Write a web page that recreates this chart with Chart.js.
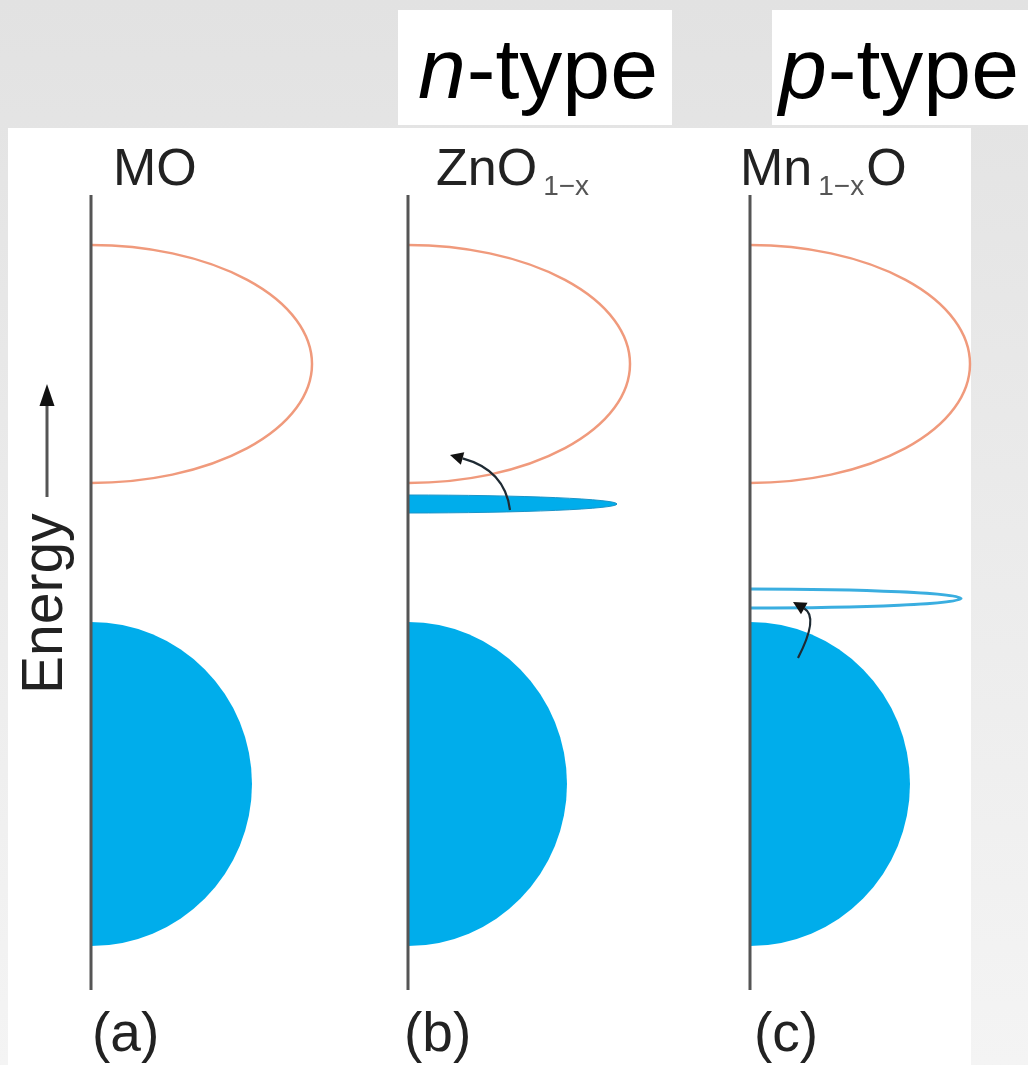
<!DOCTYPE html>
<html>
<head>
<meta charset="utf-8">
<script src="https://cdn.jsdelivr.net/npm/chart.js@4/dist/chart.umd.min.js"></script>
<style>
  html, body { margin: 0; padding: 0; background: #ececec; }
  #wrap { width: 1028px; height: 1065px; }
  canvas { display: block; }
</style>
</head>
<body>
<div id="wrap"><canvas id="c" width="1028" height="1065"></canvas></div>
<script>
// ---------- DATA (x = density of states, y = energy, arbitrary units) ----------
const panelLabels   = ['(a)', '(b)', '(c)'];
const dopingTypes   = ['', 'n', 'p'];
// compound names: [text, 'n' normal | 's' subscript]
const compoundNames = [
  [['MO', 'n']],
  [['ZnO', 'n'], ['1\u2212x', 's']],
  [['Mn', 'n'], ['1\u2212x', 's'], ['O', 'n']]
];
const panelPos   = [0, 3.17, 6.59];       // position of each DOS baseline
const axisRange  = [-3.68, 4.27];         // energy extent of the baseline
const vbTop      = [0, 0, 0];             // valence band edges
const vbBottom   = [-3.24, -3.24, -3.24];
const vbWidth    = [1.61, 1.59, 1.60];    // max DOS of valence band
const cbBottom   = [1.39, 1.39, 1.39];    // conduction band edges
const cbTop      = [3.77, 3.77, 3.77];
const cbWidth    = [2.21, 2.22, 2.20];    // max DOS of conduction band
// defect states: donor (ZnO1-x, filled) and acceptor (Mn1-xO, empty)
const defectPanel   = [1, 2];
const defectEnergy  = [1.18, 0.235];
const defectHalf    = [0.09, 0.095];
const defectDos     = [2.09, 2.11];
const defectFilled  = [true, false];
// excitation arrows [dos, energy]
const arrowPanel = [1, 2];
const arrowStart = [[1.02, 1.12], [0.48, -0.36]];
const arrowCtrl  = [[0.97, 1.52], [0.69, 0.05]];
const arrowEnd   = [[0.42, 1.67], [0.43, 0.20]];

const FONT = '"Liberation Sans", Arial, Helvetica, sans-serif';
const BLUE = '#00adeb';
const ORANGE = '#f09a7c';

// ---------- DATASETS: baselines ----------
const baselineSets = panelPos.map(p => ({
  data: [{x: p, y: axisRange[0]}, {x: p, y: axisRange[1]}],
  showLine: true, borderColor: '#555555', borderWidth: 3,
  pointRadius: 0, fill: false
}));

const bgPlugin = {
  id: 'bg',
  beforeDraw(chart) {
    const ctx = chart.ctx, W = chart.width, H = chart.height;
    ctx.save();
    const g = ctx.createLinearGradient(0, 0, 0, H);
    g.addColorStop(0, '#e2e2e2');
    g.addColorStop(1, '#f4f4f4');
    ctx.fillStyle = g;
    ctx.fillRect(0, 0, W, H);
    ctx.fillStyle = '#ffffff';
    ctx.fillRect(8, 128, 963, H - 128);
    ctx.fillRect(398, 10, 274, 115);
    ctx.fillRect(772, 10, 256, 115);
    ctx.restore();
  }
};

const bandPlugin = {
  id: 'bands',
  beforeDatasetsDraw(chart) {
    const ctx = chart.ctx, xs = chart.scales.x, ys = chart.scales.y;
    const px = v => xs.getPixelForValue(v), py = v => ys.getPixelForValue(v);
    ctx.save();
    panelPos.forEach((p, i) => {
      // valence band (filled)
      const x0 = px(p);
      let cy = py((vbTop[i] + vbBottom[i]) / 2);
      let ry = Math.abs(py(vbTop[i]) - py(vbBottom[i])) / 2;
      let rx = px(p + vbWidth[i]) - x0;
      ctx.beginPath();
      ctx.ellipse(x0, cy, rx, ry, 0, -Math.PI / 2, Math.PI / 2);
      ctx.closePath();
      ctx.fillStyle = BLUE;
      ctx.fill();
      // conduction band (empty, outlined)
      cy = py((cbTop[i] + cbBottom[i]) / 2);
      ry = Math.abs(py(cbTop[i]) - py(cbBottom[i])) / 2;
      rx = px(p + cbWidth[i]) - x0;
      ctx.beginPath();
      ctx.ellipse(x0, cy, rx, ry, 0, -Math.PI / 2, Math.PI / 2);
      ctx.strokeStyle = ORANGE;
      ctx.lineWidth = 2.5;
      ctx.stroke();
    });
    defectPanel.forEach((pi, k) => {
      const p = panelPos[pi];
      const x0 = px(p);
      const cy = py(defectEnergy[k]);
      const ry = Math.abs(py(defectEnergy[k] + defectHalf[k]) - cy);
      const rx = px(p + defectDos[k]) - x0;
      ctx.beginPath();
      ctx.ellipse(x0, cy, rx, ry, 0, -Math.PI / 2, Math.PI / 2);
      if (defectFilled[k]) {
        ctx.closePath();
        ctx.fillStyle = BLUE;
        ctx.fill();
        ctx.strokeStyle = '#1a94c8';
        ctx.lineWidth = 1;
        ctx.stroke();
      } else {
        ctx.strokeStyle = '#3aaee0';
        ctx.lineWidth = 3;
        ctx.stroke();
      }
    });
    ctx.restore();
  },
  afterDatasetsDraw(chart) {
    const ctx = chart.ctx, xs = chart.scales.x, ys = chart.scales.y;
    const px = v => xs.getPixelForValue(v), py = v => ys.getPixelForValue(v);
    ctx.save();
    arrowPanel.forEach((pi, k) => {
      const p = panelPos[pi];
      const s = [px(p + arrowStart[k][0]), py(arrowStart[k][1])];
      const c = [px(p + arrowCtrl[k][0]), py(arrowCtrl[k][1])];
      const e = [px(p + arrowEnd[k][0]), py(arrowEnd[k][1])];
      const ang = Math.atan2(e[1] - c[1], e[0] - c[0]);
      const hl = 13, hw = 6.5;
      const bx = e[0] - hl * Math.cos(ang), by = e[1] - hl * Math.sin(ang);
      ctx.beginPath();
      ctx.moveTo(s[0], s[1]);
      ctx.quadraticCurveTo(c[0], c[1], bx, by);
      ctx.strokeStyle = '#1e2a33';
      ctx.lineWidth = 2.2;
      ctx.stroke();
      ctx.beginPath();
      ctx.moveTo(e[0], e[1]);
      ctx.lineTo(bx + hw * Math.sin(ang), by - hw * Math.cos(ang));
      ctx.lineTo(bx - hw * Math.sin(ang), by + hw * Math.cos(ang));
      ctx.closePath();
      ctx.fillStyle = '#111111';
      ctx.fill();
    });
    ctx.restore();
  }
};

const textPlugin = {
  id: 'texts',
  afterDraw(chart) {
    const ctx = chart.ctx;
    ctx.save();
    ctx.textBaseline = 'alphabetic';
    ctx.textAlign = 'left';
    // doping type headers
    const headerX = [0, 418, 779];
    dopingTypes.forEach((t, i) => {
      if (!t) return;
      ctx.fillStyle = '#000000';
      ctx.font = 'italic 86px ' + FONT;
      ctx.fillText(t, headerX[i], 98);
      const w = ctx.measureText(t).width;
      ctx.font = '86px ' + FONT;
      ctx.fillText('-type', headerX[i] + w + 1, 98);
    });
    // compound names
    const nameX = [113, 436, 740];
    ctx.fillStyle = '#222222';
    compoundNames.forEach((segs, i) => {
      let x = nameX[i];
      segs.forEach(([txt, kind]) => {
        if (kind === 's') {
          ctx.font = '28px ' + FONT;
          ctx.fillStyle = '#555555';
          ctx.fillText(txt, x + 6, 195);
          x += ctx.measureText(txt).width + 8;
          ctx.fillStyle = '#222222';
        } else {
          ctx.font = '52px ' + FONT;
          ctx.fillText(txt, x, 185);
          x += ctx.measureText(txt).width;
        }
      });
    });
    // panel labels
    ctx.font = '55px ' + FONT;
    const labX = [92, 404, 754];
    panelLabels.forEach((t, i) => ctx.fillText(t, labX[i], 1051));
    // energy axis label
    ctx.save();
    ctx.translate(62, 694);
    ctx.rotate(-Math.PI / 2);
    ctx.font = '57px ' + FONT;
    ctx.fillText('Energy', 0, 0);
    ctx.restore();
    ctx.strokeStyle = '#555555';
    ctx.lineWidth = 3;
    ctx.beginPath();
    ctx.moveTo(47, 497);
    ctx.lineTo(47, 400);
    ctx.stroke();
    ctx.beginPath();
    ctx.moveTo(47, 384);
    ctx.lineTo(54.5, 406);
    ctx.lineTo(39.5, 406);
    ctx.closePath();
    ctx.fillStyle = '#111111';
    ctx.fill();
    ctx.restore();
  }
};

new Chart(document.getElementById('c'), {
  type: 'scatter',
  data: { datasets: baselineSets },
  options: {
    responsive: false,
    animation: false,
    devicePixelRatio: 1,
    layout: { padding: 0 },
    plugins: { legend: { display: false }, tooltip: { enabled: false }, title: { display: false } },
    scales: {
      x: { type: 'linear', display: false, min: -0.91, max: 9.37 },
      y: { type: 'linear', display: false, min: -4.43, max: 6.22 }
    },
    elements: { line: { tension: 0 } }
  },
  plugins: [bgPlugin, bandPlugin, textPlugin]
});
</script>
</body>
</html>
